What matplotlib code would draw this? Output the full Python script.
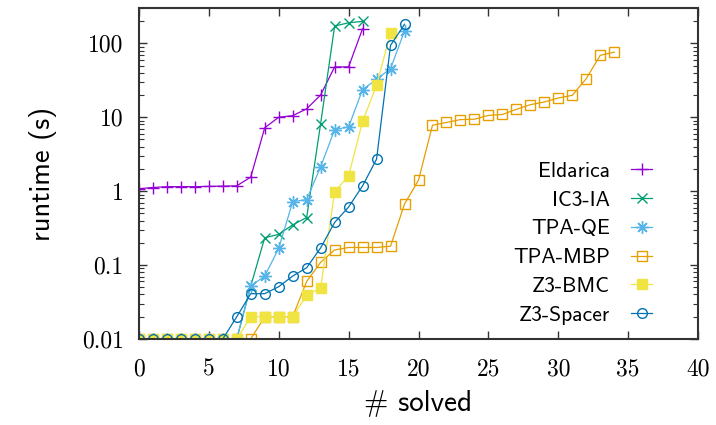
import numpy as np
import matplotlib
matplotlib.use('Agg')
import matplotlib.pyplot as plt

# データ (読み取り値)
eldarica = [1.08, 1.12, 1.15, 1.15, 1.15, 1.16, 1.17, 1.18, 1.55, 7.2, 10.0, 10.5,
            13.0, 20.0, 48.0, 48.0, 158.0]
ic3_ia = [0.01, 0.01, 0.01, 0.01, 0.01, 0.01, 0.01, 0.01, 0.052, 0.234, 0.26, 0.35,
          0.44, 8.2, 171.0, 190.0, 198.0]
tpa_qe = [0.01, 0.01, 0.01, 0.01, 0.01, 0.01, 0.01, 0.01, 0.052, 0.071, 0.168, 0.72,
          0.77, 2.13, 6.8, 7.4, 23.7, 32.6, 45.5, 147.0]
tpa_mbp = [0.01, 0.01, 0.01, 0.01, 0.01, 0.01, 0.01, 0.01, 0.01, 0.02, 0.02, 0.02,
           0.06, 0.109, 0.16, 0.173, 0.173, 0.173, 0.18, 0.67, 1.41, 7.8, 8.5, 9.3,
           9.4, 10.6, 10.9, 12.8, 14.8, 16.1, 18.2, 19.8, 33.3, 68.8, 76.0]
z3_bmc = [0.01, 0.01, 0.01, 0.01, 0.01, 0.01, 0.01, 0.01, 0.02, 0.02, 0.02, 0.02,
          0.039, 0.049, 0.98, 1.61, 8.8, 27.0, 138.0]
z3_spacer = [0.01, 0.01, 0.01, 0.01, 0.01, 0.01, 0.01, 0.020, 0.041, 0.041, 0.051,
             0.071, 0.092, 0.171, 0.377, 0.61, 1.18, 2.71, 94.0, 181.0]

series = [
    ('Eldarica', eldarica, '#9400d3', '+', dict(ms=9)),
    ('IC3-IA', ic3_ia, '#009e73', 'x', dict(ms=7)),
    ('TPA-QE', tpa_qe, '#56b4e9', (8, 2, 0), dict(ms=9)),
    ('TPA-MBP', tpa_mbp, '#e69f00', 's', dict(ms=7, mfc='none')),
    ('Z3-BMC', z3_bmc, '#f0e442', 's', dict(ms=7)),
    ('Z3-Spacer', z3_spacer, '#0072b2', 'o', dict(ms=7, mfc='none')),
]

plt.rcParams['axes.formatter.use_mathtext'] = True

fig = plt.figure(figsize=(7.16, 4.25), dpi=100)
ax = fig.add_axes([0.194, 0.2024, 0.781, 0.7786])

for name, vals, col, mk, kw in series:
    x = np.arange(len(vals))
    ax.plot(x, vals, color=col, marker=mk, lw=0.9, mew=1.0, label=name, **kw)

ax.set_yscale('log')
ax.set_xlim(0, 40)
ax.set_ylim(0.01, 300)
ax.set_xticks(range(0, 41, 5))
ax.set_yticks([0.01, 0.1, 1, 10, 100])
ax.set_yticklabels(['0.01', '0.1', '1', '10', '100'])
ax.set_xticklabels([str(v) for v in range(0, 41, 5)])

for lab in ax.get_xticklabels() + ax.get_yticklabels():
    lab.set_family('cmr10')
    lab.set_fontsize(17)

ax.tick_params(which='both', direction='in', top=True, right=True, color='#333333')
ax.tick_params(which='major', length=6, width=1.0)
ax.tick_params(axis='x', which='major', pad=14)
ax.tick_params(axis='y', which='major', pad=11)
ax.tick_params(which='minor', length=3.5, width=0.8)
for sp in ax.spines.values():
    sp.set_color('#333333')
    sp.set_linewidth(1.5)

ax.set_xlabel('# solved', family='cmss10', fontsize=21, labelpad=7)
ax.set_ylabel('runtime (s)', family='cmss10', fontsize=20.5, labelpad=18)

leg = ax.legend(loc='lower right', bbox_to_anchor=(0.952, -0.015), frameon=False,
                markerfirst=False, prop={'family': 'cmss10', 'size': 15.5},
                handlelength=0.95, labelspacing=0.45, handletextpad=1.0)
for t in leg.get_texts():
    t.set_ha('right')

fig.savefig('out.png', dpi=100)
